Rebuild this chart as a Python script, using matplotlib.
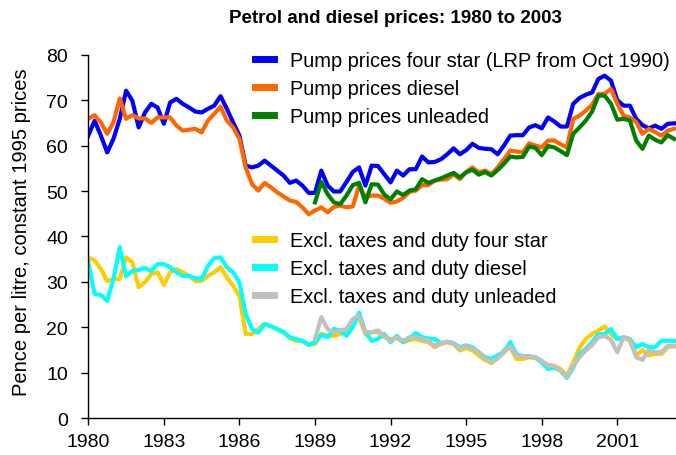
import matplotlib
matplotlib.use("Agg")
import matplotlib.pyplot as plt
import numpy as np

# quarterly prices, pence per litre (constant 1995 prices), 1980 Q1 - 2003 Q2
start_year = 1980
unleaded_start = 1989
pump_four_star = [62.2, 65.5, 62.2, 58.5, 61.5, 65.9, 72.1, 69.9, 64.0, 67.3,
                  69.2, 68.4, 64.8, 69.5, 70.3, 69.2, 68.4, 67.5, 67.3, 68.1,
                  68.8, 70.9, 68.1, 65.1, 62.2, 55.6, 55.2, 55.6, 56.7, 55.6,
                  54.5, 53.4, 51.8, 52.3, 51.2, 49.6, 49.6, 54.5, 51.2, 49.9,
                  49.9, 52.0, 54.2, 55.2, 51.2, 55.6, 55.5, 53.7, 51.9, 54.5,
                  53.4, 54.8, 54.8, 57.6, 56.3, 56.4, 57.0, 58.1, 59.4, 58.1,
                  59.0, 60.4, 59.5, 59.3, 59.2, 58.1, 60.0, 62.2, 62.3, 62.3,
                  64.0, 64.5, 63.8, 66.2, 65.3, 64.2, 64.2, 69.2, 70.5, 71.2,
                  71.7, 74.7, 75.4, 74.3, 70.0, 68.8, 68.8, 65.9, 64.5, 63.8,
                  64.4, 63.7, 64.8, 64.9]
pump_diesel = [65.9, 66.7, 65.1, 62.6, 65.1, 70.4, 65.9, 66.7, 66.0, 66.0,
               65.0, 66.2, 66.2, 66.2, 64.4, 63.3, 63.5, 63.7, 62.9, 65.5,
               67.0, 68.6, 65.5, 64.0, 61.5, 55.2, 51.5, 50.1, 51.8, 50.8,
               49.7, 48.8, 47.9, 47.6, 46.4, 44.9, 45.7, 46.4, 45.3, 46.5,
               46.8, 46.4, 46.6, 51.2, 48.6, 49.0, 49.0, 48.3, 47.4, 47.7,
               48.5, 49.8, 50.1, 51.3, 51.3, 52.3, 52.5, 52.6, 53.7, 52.6,
               54.2, 55.2, 54.1, 54.5, 53.7, 55.2, 57.0, 58.9, 58.7, 58.5,
               60.5, 60.0, 59.6, 61.1, 61.1, 60.3, 59.6, 65.9, 66.6, 67.7,
               69.0, 71.4, 71.4, 72.5, 69.2, 66.6, 66.2, 65.2, 62.6, 63.7,
               63.0, 62.2, 63.3, 63.7]
pump_unleaded = [47.5, 52.0, 49.3, 47.5, 47.1, 49.0, 51.3, 51.8, 47.5, 51.5,
                 51.4, 49.2, 48.2, 49.9, 49.1, 50.1, 50.4, 52.6, 51.8, 52.3,
                 52.8, 53.4, 54.0, 53.0, 54.1, 54.7, 53.6, 54.2, 53.4, 54.6,
                 56.0, 57.6, 57.4, 57.5, 59.8, 59.5, 57.9, 59.9, 59.6, 58.8,
                 57.9, 62.6, 64.0, 65.5, 67.5, 71.0, 71.0, 69.2, 65.7, 65.9,
                 65.5, 61.1, 59.3, 62.2, 61.3, 60.7, 62.3, 61.5]
excl_four_star = [35.4, 34.7, 32.8, 30.2, 30.6, 30.6, 35.4, 34.3, 28.8, 29.9,
                  31.7, 32.1, 29.3, 32.1, 32.8, 32.1, 31.3, 30.2, 30.2, 31.3,
                  32.1, 33.2, 31.0, 29.1, 26.9, 18.5, 18.5, 19.6, 20.7, 20.2,
                  19.6, 18.9, 17.6, 17.0, 17.0, 16.1, 16.3, 18.5, 18.1, 18.1,
                  18.5, 18.9, 21.0, 22.2, 18.5, 18.9, 18.9, 17.8, 17.4, 17.6,
                  16.7, 17.2, 17.4, 17.0, 16.7, 15.6, 16.3, 16.7, 16.3, 14.9,
                  15.4, 14.9, 13.8, 12.8, 12.1, 13.2, 14.9, 15.6, 13.0, 13.0,
                  13.4, 13.2, 12.4, 11.7, 11.5, 10.8, 9.3, 12.2, 15.5, 17.4,
                  18.5, 19.3, 20.2, 18.5, 17.4, 17.8, 17.0, 13.8, 14.9, 13.8,
                  14.1, 14.1, 15.6, 15.8]
excl_diesel = [34.3, 27.3, 27.1, 25.8, 30.6, 37.6, 31.2, 32.4, 32.6, 33.0,
               32.4, 33.9, 33.9, 33.2, 32.1, 31.3, 31.3, 30.8, 30.6, 33.5,
               35.2, 35.4, 33.2, 32.1, 29.9, 22.9, 19.6, 18.8, 20.7, 20.2,
               19.6, 18.9, 17.8, 17.4, 17.0, 16.1, 16.7, 18.3, 17.8, 19.6,
               19.3, 18.1, 20.0, 23.2, 18.9, 17.0, 17.4, 18.5, 16.7, 18.1,
               16.7, 17.6, 18.7, 17.8, 17.5, 17.4, 16.5, 16.8, 16.5, 15.6,
               16.0, 15.6, 14.5, 13.4, 13.0, 13.8, 14.5, 16.7, 14.1, 13.6,
               13.6, 13.4, 12.2, 10.8, 11.1, 10.4, 8.8, 11.1, 14.1, 15.2,
               16.7, 18.5, 18.5, 19.6, 17.4, 17.8, 17.4, 15.6, 16.3, 15.6,
               15.6, 17.0, 17.0, 17.0]
excl_unleaded = [17.4, 22.2, 19.6, 18.9, 19.3, 19.6, 21.8, 22.5, 18.9, 18.9,
                 19.3, 18.1, 17.0, 17.8, 17.0, 17.8, 17.8, 17.4, 17.0, 15.9,
                 16.5, 16.8, 16.5, 15.2, 15.9, 15.3, 14.5, 13.1, 12.4, 13.1,
                 14.5, 15.8, 13.7, 13.6, 13.6, 13.4, 12.6, 11.5, 11.5, 10.4,
                 9.0, 11.5, 13.4, 14.9, 16.1, 17.8, 18.1, 17.2, 14.5, 17.8,
                 17.2, 13.4, 12.8, 14.9, 14.5, 14.5, 15.9, 15.8]

pump_labels = ["Pump prices four star (LRP from Oct 1990)",
               "Pump prices diesel", "Pump prices unleaded"]
excl_labels = ["Excl. taxes and duty four star",
               "Excl. taxes and duty diesel",
               "Excl. taxes and duty unleaded"]
tick_years = [1980, 1983, 1986, 1989, 1992, 1995, 1998, 2001]

# time axis in decimal years, one point per quarter
t_all = start_year + np.arange(len(pump_four_star)) / 4.0
t_unl = unleaded_start + np.arange(len(pump_unleaded)) / 4.0

plt.rcParams["font.family"] = ["Liberation Sans", "DejaVu Sans"]

fig = plt.figure(figsize=(6.76, 4.56), dpi=100)
ax = fig.add_axes([0.1306, 0.0811, 0.8694, 0.7965])

lw = 3.0
l1, = ax.plot(t_all, pump_four_star, color="#0000FF", lw=lw)
l2, = ax.plot(t_all, pump_diesel, color="#FF6600", lw=lw)
l3, = ax.plot(t_unl, pump_unleaded, color="#008000", lw=lw)
l4, = ax.plot(t_all, excl_four_star, color="#FFCC00", lw=lw)
l5, = ax.plot(t_all, excl_diesel, color="#00FFFF", lw=lw)
l6, = ax.plot(t_unl, excl_unleaded, color="#C0C0C0", lw=lw)

ax.set_xlim(1980, 2003.33)
ax.set_ylim(0, 80)
ax.set_yticks(range(0, 81, 10))
ax.set_xticks(tick_years)
ax.set_xticklabels([str(y) for y in tick_years])
ax.tick_params(axis="both", labelsize=14, direction="out", length=5,
               width=1, colors="black")
ax.tick_params(axis="x", pad=6)
ax.tick_params(axis="y", pad=9.5)
for side in ["top", "right"]:
    ax.spines[side].set_visible(False)
for side in ["left", "bottom"]:
    ax.spines[side].set_color("black")
    ax.spines[side].set_linewidth(1)

ax.set_ylabel("Pence per litre, constant 1995 prices", fontsize=14.5)
ax.yaxis.set_label_coords(-0.098, 0.515)
fig.text(0.585, 0.9605, "Petrol and diesel prices: 1980 to 2003",
         ha="center", va="center", fontsize=13.5, fontweight="bold")

# two separate legend blocks, like the original
leg_kw = dict(frameon=False, fontsize=14.4, handlelength=0.95, handletextpad=0.8,
              labelspacing=0.46, borderpad=0, borderaxespad=0, loc="upper left",
              bbox_transform=fig.transFigure)
leg1 = fig.legend([l1, l2, l3], pump_labels, bbox_to_anchor=(0.377, 0.886), **leg_kw)
leg2 = fig.legend([l4, l5, l6], excl_labels, bbox_to_anchor=(0.377, 0.492), **leg_kw)
for leg in (leg1, leg2):
    for h in leg.legend_handles:
        h.set_linewidth(5)

fig.savefig("out.png", dpi=100)
